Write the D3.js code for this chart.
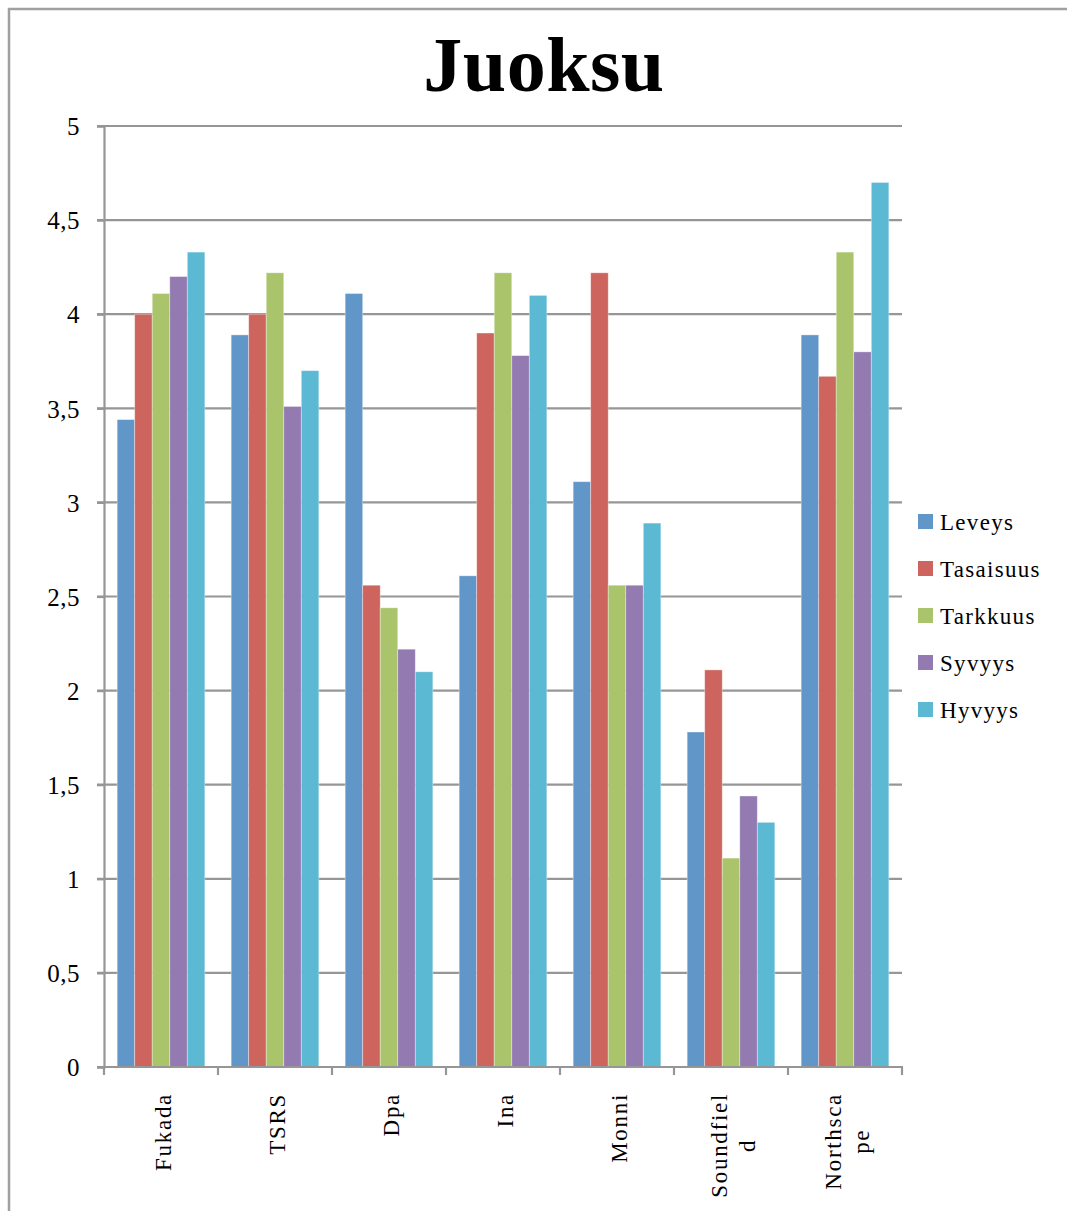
<!DOCTYPE html>
<html>
<head>
<meta charset="utf-8">
<script src="https://cdn.jsdelivr.net/npm/d3@7"></script>
<style>
  html, body { margin: 0; padding: 0; background: #fff; }
  svg { display: block; }
  text { font-family: "Liberation Serif", "DejaVu Serif", serif; fill: #000; }
</style>
</head>
<body>
<div id="chart"></div>
<script>
// Column chart "Juoksu" — ratings per microphone setup.

const categories = ['Fukada', 'TSRS', 'Dpa', 'Ina', 'Monni', 'Soundfield', 'Northscape'];
const catLabels  = [['Fukada'], ['TSRS'], ['Dpa'], ['Ina'], ['Monni'], ['Soundfiel', 'd'], ['Northsca', 'pe']];
const seriesNames = ['Leveys', 'Tasaisuus', 'Tarkkuus', 'Syvyys', 'Hyvyys'];
const COLORS = ['#6196C9', '#CD655E', '#AAC46B', '#937BB1', '#5CB9D3'];

const leveys    = [3.44, 3.89, 4.11, 2.61, 3.11, 1.78, 3.89];
const tasaisuus = [4.00, 4.00, 2.56, 3.90, 4.22, 2.11, 3.67];
const tarkkuus  = [4.11, 4.22, 2.44, 4.22, 2.56, 1.11, 4.33];
const syvyys    = [4.20, 3.51, 2.22, 3.78, 2.56, 1.44, 3.80];
const hyvyys    = [4.33, 3.70, 2.10, 4.10, 2.89, 1.30, 4.70];
const seriesValues = [leveys, tasaisuus, tarkkuus, syvyys, hyvyys];

const yTicks = [0, 0.5, 1, 1.5, 2, 2.5, 3, 3.5, 4, 4.5, 5];

const W = 1067, H = 1211;
const plot = { left: 104, right: 902, top: 126, bottom: 1067 };
const GRID = '#969696';

const svg = d3.select('#chart').append('svg').attr('width', W).attr('height', H);

// outer frame (runs off the right and bottom edge)
svg.append('rect').attr('x', 9).attr('y', 9).attr('width', W + 20).attr('height', H + 20)
  .attr('fill', 'none').attr('stroke', '#a0a0a0').attr('stroke-width', 2.5);

svg.append('text').attr('x', 544).attr('y', 91).attr('text-anchor', 'middle')
  .style('font-size', '78px').style('font-weight', 700).style('letter-spacing', '0.5px')
  .text('Juoksu');

const y = d3.scaleLinear().domain([0, 5]).range([plot.bottom, plot.top]);
const x0 = d3.scaleBand().domain(categories).range([plot.left, plot.right]).paddingInner(0).paddingOuter(0);
// Excel gap width 150%: 5 bars + 1.5 bar of gap per band
const barW = x0.bandwidth() / 6.5;
const x1 = d3.scaleBand().domain(seriesNames).range([0.75 * barW, 5.75 * barW]).padding(0);

// gridlines
svg.append('g').selectAll('line').data(yTicks.filter(t => t > 0)).enter().append('line')
  .attr('x1', plot.left - 7).attr('x2', plot.right)
  .attr('y1', d => y(d)).attr('y2', d => y(d))
  .attr('stroke', GRID).attr('stroke-width', 2.2);

// bars
const groups = svg.append('g').selectAll('g').data(categories).enter().append('g')
  .attr('transform', d => `translate(${x0(d)},0)`);
groups.selectAll('rect').data((c, ci) => seriesNames.map((s, si) => ({ s, v: seriesValues[si][ci], i: si })))
  .enter().append('rect')
  .attr('x', d => x1(d.s)).attr('width', x1.bandwidth())
  .attr('y', d => y(d.v)).attr('height', d => y(0) - y(d.v))
  .attr('fill', d => COLORS[d.i])
  .attr('stroke', 'rgba(255,255,255,0.45)').attr('stroke-width', 0.8);

// y axis
const yAxis = d3.axisLeft(y).tickValues(yTicks).tickSize(7).tickPadding(17)
  .tickFormat(d => String(d).replace('.', ','));
const ya = svg.append('g').attr('transform', `translate(${plot.left},0)`).call(yAxis);
ya.select('.domain').attr('stroke', GRID).attr('stroke-width', 2.2);
ya.selectAll('.tick line').attr('stroke', GRID).attr('stroke-width', 2.2);
ya.selectAll('.tick text').style('font-size', '25px').style('font-family', '"Liberation Serif", serif')
  .style('letter-spacing', '0.5px').attr('fill', '#000').attr('dy', '0.35em');

// x axis line + ticks at band boundaries
svg.append('line').attr('x1', plot.left - 7).attr('x2', plot.right + 1)
  .attr('y1', plot.bottom).attr('y2', plot.bottom)
  .attr('stroke', GRID).attr('stroke-width', 2.2);
const bounds = categories.map(c => x0(c)).concat([plot.right]);
svg.append('g').selectAll('line').data(bounds).enter().append('line')
  .attr('x1', d => d).attr('x2', d => d)
  .attr('y1', plot.bottom).attr('y2', plot.bottom + 8)
  .attr('stroke', GRID).attr('stroke-width', 2.2);

// rotated category labels
const labTop = 1093, lineGap = 28;
categories.forEach((c, ci) => {
  const lines = catLabels[ci];
  const cx = x0(c) + x0.bandwidth() / 2;
  const g = svg.append('g');
  const texts = lines.map((ln, li) => g.append('text')
    .style('font-size', '23px').style('letter-spacing', '1.7px')
    .attr('text-anchor', 'middle').attr('dominant-baseline', 'central')
    .text(ln));
  const maxLen = d3.max(texts, t => t.node().getComputedTextLength());
  const cy = labTop + maxLen / 2;
  texts.forEach((t, li) => {
    const lx = cx + (li - (lines.length - 1) / 2) * lineGap + 2;
    t.attr('transform', `translate(${lx},${cy}) rotate(-90)`);
  });
});

// legend
const leg = svg.append('g').selectAll('g').data(seriesNames).enter().append('g')
  .attr('transform', (d, i) => `translate(918,${522 + i * 47})`);
leg.append('rect').attr('x', 0).attr('y', -8).attr('width', 15).attr('height', 15)
  .attr('fill', (d, i) => COLORS[i]);
leg.append('text').attr('x', 22).attr('y', 0).attr('dominant-baseline', 'central')
  .style('font-size', '23px').style('letter-spacing', '1.3px').text(d => d);
</script>
</body>
</html>
